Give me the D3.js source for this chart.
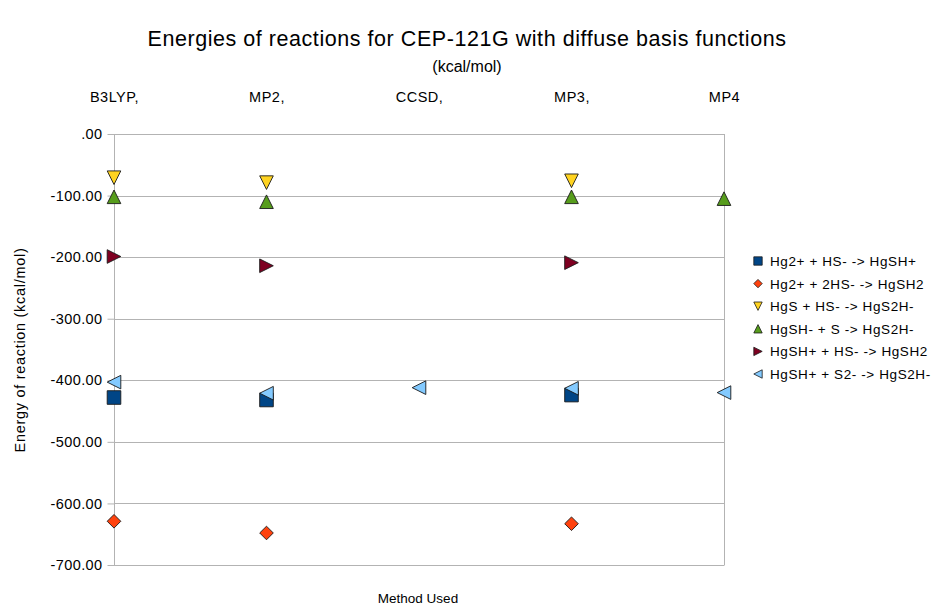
<!DOCTYPE html>
<html>
<head>
<meta charset="utf-8">
<script src="https://cdn.jsdelivr.net/npm/d3@7"></script>
<style>
  html, body { margin: 0; padding: 0; background: #fff; }
  svg { display: block; font-family: "Liberation Sans", Arial, sans-serif; }
</style>
</head>
<body>
<svg id="chart" width="934" height="609"></svg>
<script>
// Methods along the category axis
const methods = ["B3LYP,", "MP2,", "CCSD,", "MP3,", "MP4"];

// Reaction energies (kcal/mol) per method; null = not computed
const hgHsToHgSH      = [-428, -432, null, -424, null];
const hg2HsToHgSH2    = [-629, -648, null, -633, null];
const hgsHsToHgS2H    = [-71, -79, null, -76, null];
const hgshSToHgS2H    = [-102, -110, null, -102, -105];
const hgshHsToHgSH2   = [-199, -214, null, -209, null];
const hgshS2ToHgS2H   = [-403, -421, -412, -413, -420];

const seriesNames = [
  "Hg2+ + HS- -> HgSH+",
  "Hg2+ + 2HS-  -> HgSH2",
  "HgS + HS- -> HgS2H-",
  "HgSH- + S -> HgS2H-",
  "HgSH+ + HS-  -> HgSH2",
  "HgSH+ + S2- -> HgS2H-"
];
const yTicks = [0, -100, -200, -300, -400, -500, -600, -700];

const seriesValues = [hgHsToHgSH, hg2HsToHgSH2, hgsHsToHgS2H, hgshSToHgS2H, hgshHsToHgSH2, hgshS2ToHgS2H];
const colors = ["#004586", "#ff420e", "#ffd320", "#579d1c", "#7e0021", "#83caff"];
const shapes = ["square", "diamond", "down", "up", "right", "left"];

// Marker outline generator; r is half the bounding box
function markerPath(shape, r) {
  switch (shape) {
    case "square":  return `M${-r},${-r}H${r}V${r}H${-r}Z`;
    case "diamond": return `M0,${-r}L${r},0L0,${r}L${-r},0Z`;
    case "down":    return `M${-r},${-r}H${r}L0,${r}Z`;
    case "up":      return `M0,${-r}L${r},${r}H${-r}Z`;
    case "right":   return `M${-r},${-r}L${r},0L${-r},${r}Z`;
    case "left":    return `M${r},${-r}L${-r},0L${r},${r}Z`;
  }
}

const svg = d3.select("#chart");
const plot = { left: 114, right: 724, top: 134, bottom: 565 };

const x = d3.scalePoint().domain(methods).range([plot.left, plot.right]).padding(0);
const y = d3.scaleLinear().domain([-700, 0]).range([plot.bottom, plot.top]);

// Horizontal grid lines
svg.append("g")
  .selectAll("line")
  .data(yTicks)
  .join("line")
  .attr("x1", plot.left).attr("x2", plot.right)
  .attr("y1", d => Math.round(y(d)) + 0.5).attr("y2", d => Math.round(y(d)) + 0.5)
  .attr("stroke", "#b3b3b3").attr("stroke-width", 1);

// Right frame line
svg.append("line")
  .attr("x1", plot.right + 0.5).attr("x2", plot.right + 0.5)
  .attr("y1", plot.top).attr("y2", plot.bottom + 0.5)
  .attr("stroke", "#b3b3b3");

// Value axis on the left
const yAxis = d3.axisLeft(y)
  .tickValues(yTicks)
  .tickSize(7)
  .tickPadding(5)
  .tickFormat(d => d === 0 ? ".00" : d3.format(".2f")(d).replace("−", "-"));
const yg = svg.append("g").attr("transform", `translate(${plot.left + 0.5},0)`).call(yAxis);
yg.select(".domain").attr("d", `M0,${y(0)}V${y(-700)}`).attr("stroke", "#b3b3b3");
yg.selectAll(".tick line").attr("stroke", "#b3b3b3");
yg.selectAll(".tick text")
  .attr("fill", "#000").attr("font-size", 14.5).attr("letter-spacing", 0.4)
  .attr("font-family", "Liberation Sans, Arial, sans-serif");

// Category labels along the top
const xAxis = d3.axisTop(x).tickSize(0).tickPadding(0);
const xg = svg.append("g").attr("transform", `translate(0,102)`).call(xAxis);
xg.select(".domain").remove();
xg.selectAll(".tick text")
  .attr("fill", "#000").attr("font-size", 14.5).attr("letter-spacing", 0.5)
  .attr("font-family", "Liberation Sans, Arial, sans-serif");

// Data points
seriesValues.forEach((vals, i) => {
  svg.append("g")
    .selectAll("path")
    .data(methods.map((m, j) => ({ m, v: vals[j] })).filter(d => d.v !== null))
    .join("path")
    .attr("transform", d => `translate(${x(d.m)},${y(d.v)})`)
    .attr("d", markerPath(shapes[i], 6.8))
    .attr("fill", colors[i])
    .attr("stroke", "#1a1a1a")
    .attr("stroke-width", 0.9);
});

// Titles
svg.append("text")
  .attr("x", 467).attr("y", 46)
  .attr("text-anchor", "middle").attr("font-size", 21.5).attr("letter-spacing", 0.55)
  .text("Energies of reactions for CEP-121G with diffuse basis functions");
svg.append("text")
  .attr("x", 467).attr("y", 72)
  .attr("text-anchor", "middle").attr("font-size", 16)
  .text("(kcal/mol)");
svg.append("text")
  .attr("x", 418).attr("y", 603)
  .attr("text-anchor", "middle").attr("font-size", 13.5)
  .text("Method Used");
svg.append("text")
  .attr("transform", "translate(25,350) rotate(-90)")
  .attr("text-anchor", "middle").attr("font-size", 14.5).attr("letter-spacing", 0.7)
  .text("Energy of reaction (kcal/mol)");

// Legend
const legend = svg.append("g").attr("transform", "translate(758,261)");
const rows = legend.selectAll("g")
  .data(seriesNames)
  .join("g")
  .attr("transform", (d, i) => `translate(0,${i * 22.6})`);
rows.append("path")
  .attr("d", (d, i) => markerPath(shapes[i], 4.2))
  .attr("fill", (d, i) => colors[i])
  .attr("stroke", "#1a1a1a")
  .attr("stroke-width", 0.8);
rows.append("text")
  .attr("x", 12).attr("y", 5)
  .attr("font-size", 13.5).attr("letter-spacing", 0.6)
  .text(d => d);
</script>
</body>
</html>
